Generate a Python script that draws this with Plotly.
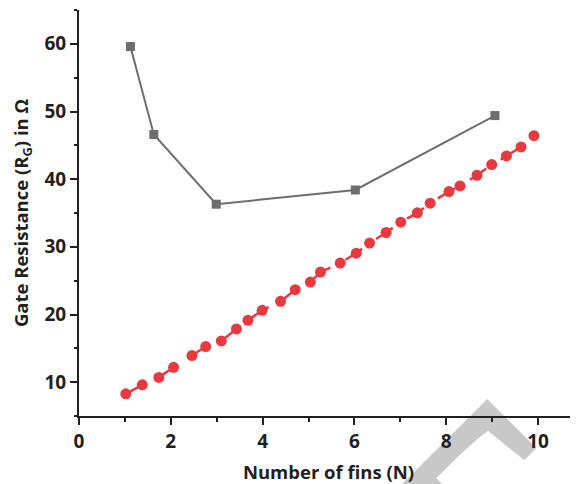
import urllib.parse
import plotly.graph_objects as go

# Gray series (squares)
fins_gray = [1.12, 1.63, 2.99, 6.02, 9.06]
rg_gray = [59.6, 46.6, 36.3, 38.4, 49.4]

# Red series (circles)
fins_red = [1.02, 1.38, 1.74, 2.06, 2.46, 2.76, 3.10, 3.43, 3.68, 3.99, 4.39, 4.71,
            5.04, 5.26, 5.69, 6.04, 6.33, 6.69, 7.01, 7.37, 7.65, 8.06, 8.30, 8.67,
            8.99, 9.31, 9.63, 9.91]
rg_red = [8.27, 9.6, 10.7, 12.2, 13.93, 15.26, 16.1, 17.86, 19.14, 20.62, 21.94, 23.66,
          24.8, 26.27, 27.6, 29.07, 30.55, 32.12, 33.64, 35.02, 36.45, 38.17, 39.0, 40.58,
          42.15, 43.43, 44.76, 46.43]

x_title = "Number of fins (N)"
y_title = "Gate Resistance (R<sub>G</sub>) in Ω"

FONT = "Open Sans"
INK = "#231f20"
fig = go.Figure()

fig.add_trace(go.Scatter(
    x=fins_red, y=rg_red, mode="lines+markers",
    line=dict(color="#e8393f", width=2.5, dash="20px,17px"),
    marker=dict(symbol="circle", size=11, color="#e8393f"),
    showlegend=False))

fig.add_trace(go.Scatter(
    x=fins_gray, y=rg_gray, mode="lines+markers",
    line=dict(color="#6d6e71", width=2),
    marker=dict(symbol="square", size=9, color="#6d6e71"),
    showlegend=False))

axis_font = dict(family=FONT, size=19, color=INK, weight="bold")
title_font = dict(family=FONT, size=18.5, color=INK, weight="bold")

# light-gray watermark fragment (serif letter, rotated) in the lower right corner
wm_svg = (
    "<svg xmlns='http://www.w3.org/2000/svg' width='198' height='104' viewBox='0 0 198 104'>"
    "<text transform='translate(108,370) rotate(-45)' font-family='Liberation Serif' "
    "font-weight='bold' font-size='380' fill='#c8c8c8'>T</text></svg>"
)
wm_src = "data:image/svg+xml;charset=utf-8," + urllib.parse.quote(wm_svg)

fig.update_layout(
    width=578, height=484,
    margin=dict(l=71, r=8, t=2, b=76, autoexpand=False),
    paper_bgcolor="white", plot_bgcolor="white",
    xaxis=dict(
        range=[0, 10.87], dtick=2, tick0=0, automargin=False,
        showline=True, linewidth=2, linecolor=INK,
        ticks="outside", ticklen=7, tickwidth=2, tickcolor=INK,
        minor=dict(dtick=1, ticks="outside", ticklen=4, tickwidth=2, tickcolor=INK),
        showgrid=False, zeroline=False,
        tickfont=axis_font,
        title=dict(text=x_title, font=title_font, standoff=13),
    ),
    yaxis=dict(
        range=[5, 65], dtick=10, tick0=0, automargin=False,
        showline=True, linewidth=2, linecolor=INK,
        ticks="outside", ticklen=7, tickwidth=2, tickcolor=INK,
        minor=dict(dtick=5, ticks="outside", ticklen=3, tickwidth=2, tickcolor=INK),
        showgrid=False, zeroline=False,
        tickfont=axis_font,
        title=dict(text=y_title, font=title_font, standoff=13),
    ),
    xaxis2=dict(
        overlaying="x", side="top", anchor="y", range=[0, 4.94], dtick=1, tick0=0,
        automargin=False,
        showline=True, linewidth=2, linecolor=INK,
        ticks="inside", ticklen=7, tickwidth=2, tickcolor=INK,
        minor=dict(dtick=0.5, ticks="inside", ticklen=4, tickwidth=2, tickcolor=INK),
        showticklabels=False, showgrid=False, zeroline=False,
    ),
    yaxis2=dict(
        overlaying="y", side="right", anchor="x", range=[0, 4.98], dtick=1, tick0=0,
        automargin=False,
        showline=False, ticks="inside", ticklen=3, tickwidth=2, tickcolor=INK,
        showticklabels=False, showgrid=False, zeroline=False,
    ),
    images=[dict(
        source=wm_src, xref="paper", yref="paper",
        x=(380 - 79) / 499, y=(416 - 380) / 406,
        sizex=198 / 499, sizey=104 / 406,
        xanchor="left", yanchor="top", sizing="stretch", layer="below")],
)

fig.write_html("out.html")
